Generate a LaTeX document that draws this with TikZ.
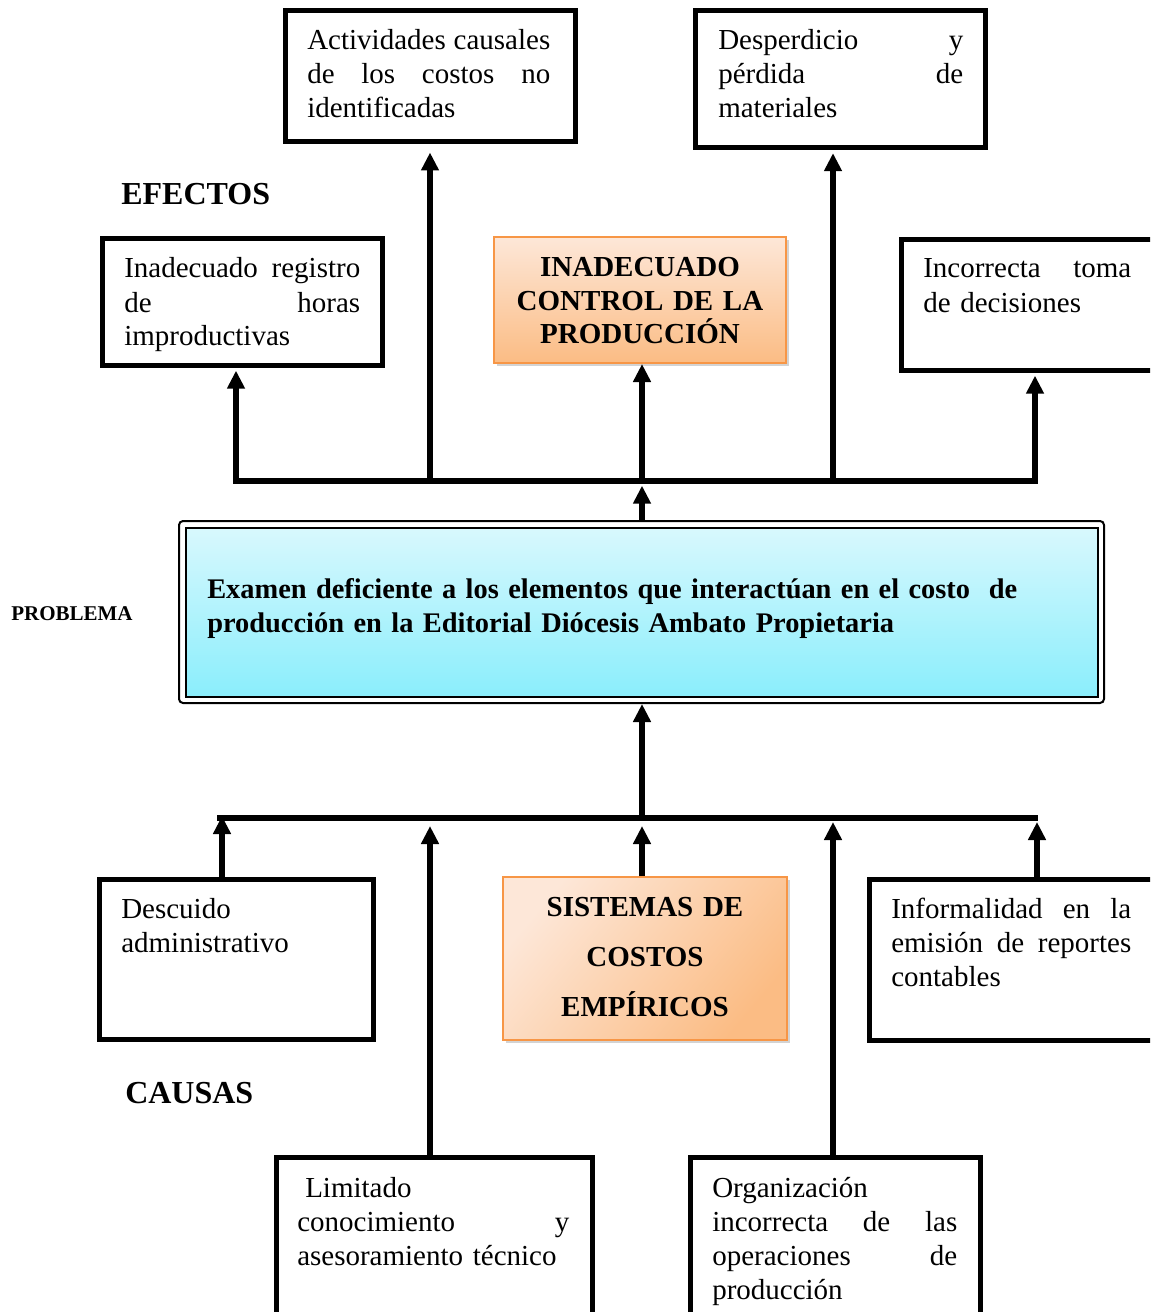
\documentclass[tikz,border=0pt]{standalone}
\usepackage{fontspec}
\setmainfont{Liberation Serif}
\usetikzlibrary{arrows.meta,fit,shadows}

\definecolor{oBorder}{HTML}{F79646}
\definecolor{oLight}{HTML}{FDE7D8}
\definecolor{oDark}{HTML}{FBBC84}
\definecolor{cTop}{HTML}{D8F8FD}
\definecolor{cBot}{HTML}{8AEEFC}

\tikzset{
  box/.style={draw=black, line width=3.75pt, inner sep=0pt},
  obox/.style={draw=oBorder, line width=1.5pt, inner sep=0pt,
    drop shadow={opacity=0.35, shadow xshift=2pt, shadow yshift=-2.5pt}},
  txt/.style={anchor=base west, inner sep=0pt, align=left,
    font=\fontsize{21.75}{25.5}\selectfont},
  btxt/.style={anchor=base, inner sep=0pt, align=center, text width=215pt,
    font=\bfseries\fontsize{21.75}{24.75}\selectfont},
  hdr/.style={anchor=base west, inner sep=0pt, font=\bfseries\fontsize{24}{28}\selectfont},
  bus/.style={line width=4.1pt, line cap=rect},
  arr/.style={line width=4.1pt, -{Triangle[width=12.75pt,length=13.5pt]}},
}
% a justified line of a given width: the word spaces share the free room
\newcommand{\jline}[2]{\makebox[#1][s]{\spaceskip=0.25em plus 1fil\xspaceskip=\spaceskip\relax #2}}

\begin{document}
\begin{tikzpicture}[x=0.75pt,y=-0.75pt]
\useasboundingbox (0,0) rectangle (1150,1312);
\clip (0,0) rectangle (1150,1312);

% ---- effects ----
\node[box, fit={(285,11)(575,142)}] (act) {};
\node[txt, text width=182.25pt] (actT) at (307,50)
  {\jline{182.25pt}{Actividades causales}\\ \jline{182.25pt}{de los costos no}\\ identificadas};

\node[box, fit={(695.5,11)(985.5,148)}] (desp) {};
\node[txt, text width=183.75pt] (despT) at (718,50)
  {\jline{183.75pt}{Desperdicio y}\\ \jline{183.75pt}{pérdida de}\\ materiales};

\node[hdr] (efectos) at (121,205) {EFECTOS};

\node[box, fit={(102,239)(382.5,365.5)}] (reg) {};
\node[txt, text width=177pt] (regT) at (124,278)
  {\jline{177pt}{Inadecuado registro}\\ \jline{177pt}{de horas}\\ improductivas};

\node[obox, fit={(494,237)(786,363)}, top color=oLight, bottom color=oDark] (ctrl) {};
\node[btxt] (ctrlT) at (640,277) {INADECUADO\\ CONTROL DE LA\\ PRODUCCIÓN};

\node[box, fit={(901,240)(1165,370.5)}] (inc) {};
\node[txt, text width=156pt] (incT) at (923,278)
  {\jline{156pt}{Incorrecta toma}\\ de decisiones};

% ---- problem ----
\node[hdr, font=\bfseries\fontsize{15.75}{18}\selectfont] (problema) at (11,620) {PROBLEMA};
\node[draw=black, line width=1.5pt, rounded corners=3pt, fill=white, inner sep=0pt,
  fit={(179,521)(1104,703)}] (prob) {};
\node[draw=black, line width=1.5pt, inner sep=0pt, top color=cTop, bottom color=cBot,
  fit={(186,528)(1098,697)}] (probin) {};
\node[txt, text width=620pt, font=\bfseries\fontsize{21.3}{25.5}\selectfont] (probT) at (207,598)
  {\jline{607.5pt}{Examen deficiente a los elementos que interactúan en el costo\ \ de}\\
   producción en la Editorial Diócesis Ambato Propietaria};

% ---- causes ----
\node[box, fit={(99,879.5)(373.5,1039)}] (desc) {};
\node[txt, text width=200pt] (descT) at (121,918) {Descuido\\ administrativo};

\node[obox, fit={(503,877)(787,1040)}, top color=oLight, bottom color=oDark, shading angle=50] (sist) {};
\node[btxt, font=\bfseries\fontsize{21.75}{37.5}\selectfont] (sistT) at (645,916)
  {SISTEMAS DE\\ COSTOS\\ EMPÍRICOS};

\node[box, fit={(869,879.5)(1165,1040)}] (inf) {};
\node[txt, text width=180pt] (infT) at (891,918)
  {\jline{180pt}{Informalidad en la}\\ \jline{180pt}{emisión de reportes}\\ contables};

\node[hdr] (causas) at (125,1103) {CAUSAS};

\node[box, fit={(276,1157)(592,1330)}] (lim) {};
\node[txt, text width=204pt] (limT) at (297,1197)
  {\hspace*{6pt}Limitado\\ \jline{204pt}{conocimiento y}\\ asesoramiento técnico};

\node[box, fit={(690,1157)(980.5,1330)}] (org) {};
\node[txt, text width=183.75pt] (orgT) at (712,1197)
  {Organización\\ \jline{183.75pt}{incorrecta de las}\\ \jline{183.75pt}{operaciones de}\\ producción};

% ---- upper connectors ----
\coordinate (tl) at (236,481);
\coordinate (tr) at (1035,481);
\coordinate (t2) at (430,481);
\coordinate (t3) at (642,481);
\coordinate (t4) at (833,481);
\draw[bus] (tl) -- (tr);
\draw[arr, shorten >=2pt] (tl) -- (tl |- reg.south);
\draw[arr, shorten >=6pt] (t2) -- (t2 |- act.south);
\draw[arr] (t3) -- (t3 |- ctrl.south);
\draw[arr, shorten >=2pt] (t4) -- (t4 |- desp.south);
\draw[arr, shorten >=2pt] (tr) -- (tr |- inc.south);
\draw[arr, shorten >=3.5pt] (t3 |- prob.north) -- (t3);

% ---- lower connectors ----
\coordinate (bl) at (220,818);
\coordinate (br) at (1035,818);
\coordinate (b1) at (222,818);
\coordinate (b2) at (430,818);
\coordinate (b3) at (642,818);
\coordinate (b4) at (833,818);
\coordinate (b5) at (1037,818);
\draw[bus] (bl) -- (br);
\draw[arr] (b3) -- (b3 |- prob.south);
\draw[arr, shorten >=-1.5pt] (b1 |- desc.north) -- (b1);
\draw[arr, shorten >=6pt] (b2 |- lim.north) -- (b2);
\draw[arr, shorten >=6pt] (b3 |- sist.north) -- (b3);
\draw[arr, shorten >=3pt] (b4 |- org.north) -- (b4);
\draw[arr, shorten >=3pt] (b5 |- inf.north) -- (b5);
\end{tikzpicture}
\end{document}
